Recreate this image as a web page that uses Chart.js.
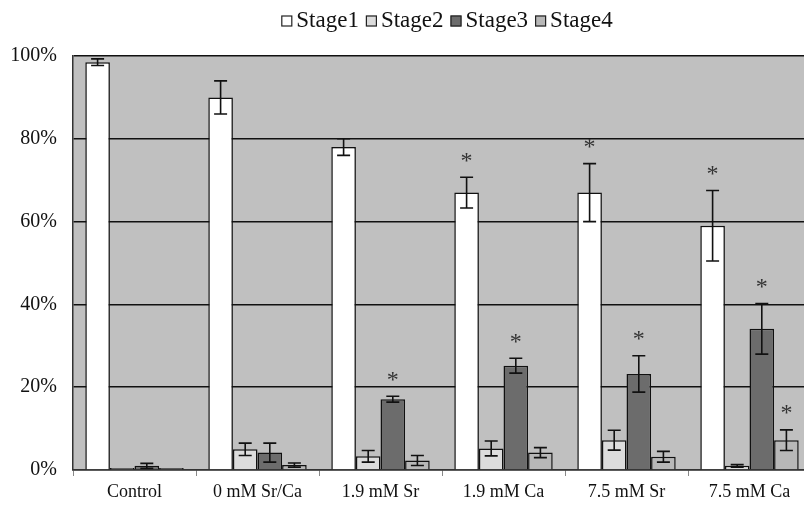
<!DOCTYPE html>
<html>
<head>
<meta charset="utf-8">
<script src="https://cdn.jsdelivr.net/npm/chart.js@4.4.1/dist/chart.umd.min.js"></script>
<style>
  html, body { margin: 0; padding: 0; background: #fff; overflow: hidden; }
  #wrap { width: 812px; height: 505px; }
</style>
</head>
<body>
<div id="wrap"><canvas id="stageChart" width="812" height="505"></canvas></div>
<script>
const serif = '"Liberation Serif", "DejaVu Serif", serif';

// categorias e valores
const categories = ['Control', '0 mM Sr/Ca', '1.9 mM Sr', '1.9 mM Ca', '7.5 mM Sr', '7.5 mM Ca'];
const stageNames = ['Stage1', 'Stage2', 'Stage3', 'Stage4'];
const stage1 = [98.5, 90, 78, 67, 67, 59];
const stage2 = [0, 5, 3.3, 5.2, 7.2, 1];
const stage3 = [1, 4.2, 17.1, 25.2, 23.2, 34.1];
const stage4 = [0, 1.2, 2.3, 4.2, 3.2, 7.2];
const stage1Err = [0.8, 4, 2, 3.7, 7, 8.5];
const stage2Err = [0, 1.5, 1.4, 1.8, 2.4, 0.3];
const stage3Err = [0.6, 2.3, 0.7, 1.8, 4.4, 6.1];
const stage4Err = [0, 0.5, 1.2, 1.2, 1.3, 2.5];
// asteriscos de significância
const stage1Sig = [false, false, false, true, true, true];
const stage2Sig = [false, false, false, false, false, false];
const stage3Sig = [false, false, true, true, true, true];
const stage4Sig = [false, false, false, false, false, true];
const yTicks = [0, 20, 40, 60, 80, 100];

const fills = ['#ffffff', '#dcdcdc', '#6c6c6c', '#b8b8b8'];
const allValues = [stage1, stage2, stage3, stage4];
const allErr = [stage1Err, stage2Err, stage3Err, stage4Err];
const allSig = [stage1Sig, stage2Sig, stage3Sig, stage4Sig];

// fundo cinza da área do gráfico
const plotBg = {
    id: 'plotBg',
    beforeDraw(chart) {
        const { ctx, chartArea: a } = chart;
        ctx.save();
        ctx.fillStyle = '#c0c0c0';
        ctx.fillRect(a.left, a.top, a.right - a.left, a.bottom - a.top);
        ctx.restore();
    }
};

// barras de erro + asteriscos
const errorBars = {
    id: 'errorBars',
    afterDatasetsDraw(chart) {
        const ctx = chart.ctx;
        const y = chart.scales.y;
        ctx.save();
        ctx.strokeStyle = '#111';
        ctx.lineWidth = 1.6;
        chart.data.datasets.forEach((ds, di) => {
            const meta = chart.getDatasetMeta(di);
            meta.data.forEach((bar, i) => {
                const v = ds.data[i];
                const e = allErr[di][i];
                const top = y.getPixelForValue(v + e);
                if (e > 0) {
                    const bot = y.getPixelForValue(Math.max(v - e, 0));
                    const cap = 6.5;
                    ctx.beginPath();
                    ctx.moveTo(bar.x, top); ctx.lineTo(bar.x, bot);
                    ctx.moveTo(bar.x - cap, top); ctx.lineTo(bar.x + cap, top);
                    ctx.moveTo(bar.x - cap, bot); ctx.lineTo(bar.x + cap, bot);
                    ctx.stroke();
                }
                if (allSig[di][i]) {
                    ctx.fillStyle = '#333';
                    ctx.font = '24px ' + serif;
                    ctx.textAlign = 'center';
                    ctx.textBaseline = 'middle';
                    ctx.fillText('*', bar.x, top - 16);
                }
            });
        });
        ctx.restore();
    }
};

// legenda desenhada à mão, centrada na área do gráfico
const topLegend = {
    id: 'topLegend',
    afterDraw(chart) {
        const { ctx, chartArea: a } = chart;
        ctx.save();
        ctx.font = '23px ' + serif;
        ctx.textBaseline = 'middle';
        ctx.textAlign = 'left';
        const box = 11, gap = 4, spacing = 7;
        const widths = stageNames.map(n => box + gap + ctx.measureText(n).width);
        const total = widths.reduce((s, w) => s + w, 0) + spacing * (widths.length - 1);
        let x = (a.left + a.right) / 2 - total / 2 + 5;
        const yc = 20;
        stageNames.forEach((n, i) => {
            ctx.fillStyle = fills[i];
            ctx.fillRect(x, yc - box / 2 + 1, box, box);
            ctx.strokeStyle = '#222';
            ctx.lineWidth = 1.2;
            ctx.strokeRect(x + 0.5, yc - box / 2 + 1.5, box - 1, box - 1);
            ctx.fillStyle = '#111';
            ctx.fillText(n, x + box + gap, yc + 1);
            x += widths[i] + spacing;
        });
        ctx.restore();
    }
};

new Chart(document.getElementById('stageChart').getContext('2d'), {
    type: 'bar',
    data: {
        labels: categories,
        datasets: stageNames.map((n, i) => ({
            label: n,
            data: allValues[i],
            backgroundColor: fills[i],
            borderColor: '#111',
            borderWidth: 1.5,
            borderSkipped: 'bottom',
            minBarLength: 2,
            categoryPercentage: 0.8,
            barPercentage: 1.0
        }))
    },
    options: {
        responsive: false,
        animation: false,
        layout: { padding: { top: 56, right: 1, left: 0, bottom: 0 } },
        plugins: {
            legend: { display: false },
            tooltip: { enabled: false }
        },
        scales: {
            x: {
                afterFit(scale) { scale.height = 35; },
                grid: { offset: true, drawOnChartArea: false, drawTicks: true, tickLength: 6, color: '#888' },
                border: { display: true, color: '#333', width: 1.5 },
                ticks: { color: '#111', font: { family: serif, size: 18 }, padding: 5, maxRotation: 0 }
            },
            y: {
                min: 0,
                max: 100,
                afterFit(scale) { scale.width = 73; },
                afterBuildTicks(scale) { scale.ticks = yTicks.map(v => ({ value: v })); },
                grid: { color: '#111', lineWidth: 1.5, drawTicks: false },
                border: { display: true, color: '#333', width: 1.5 },
                ticks: {
                    color: '#111',
                    font: { family: serif, size: 20 },
                    padding: 16,
                    callback: v => v + '%'
                }
            }
        }
    },
    plugins: [plotBg, errorBars, topLegend]
});
</script>
</body>
</html>
